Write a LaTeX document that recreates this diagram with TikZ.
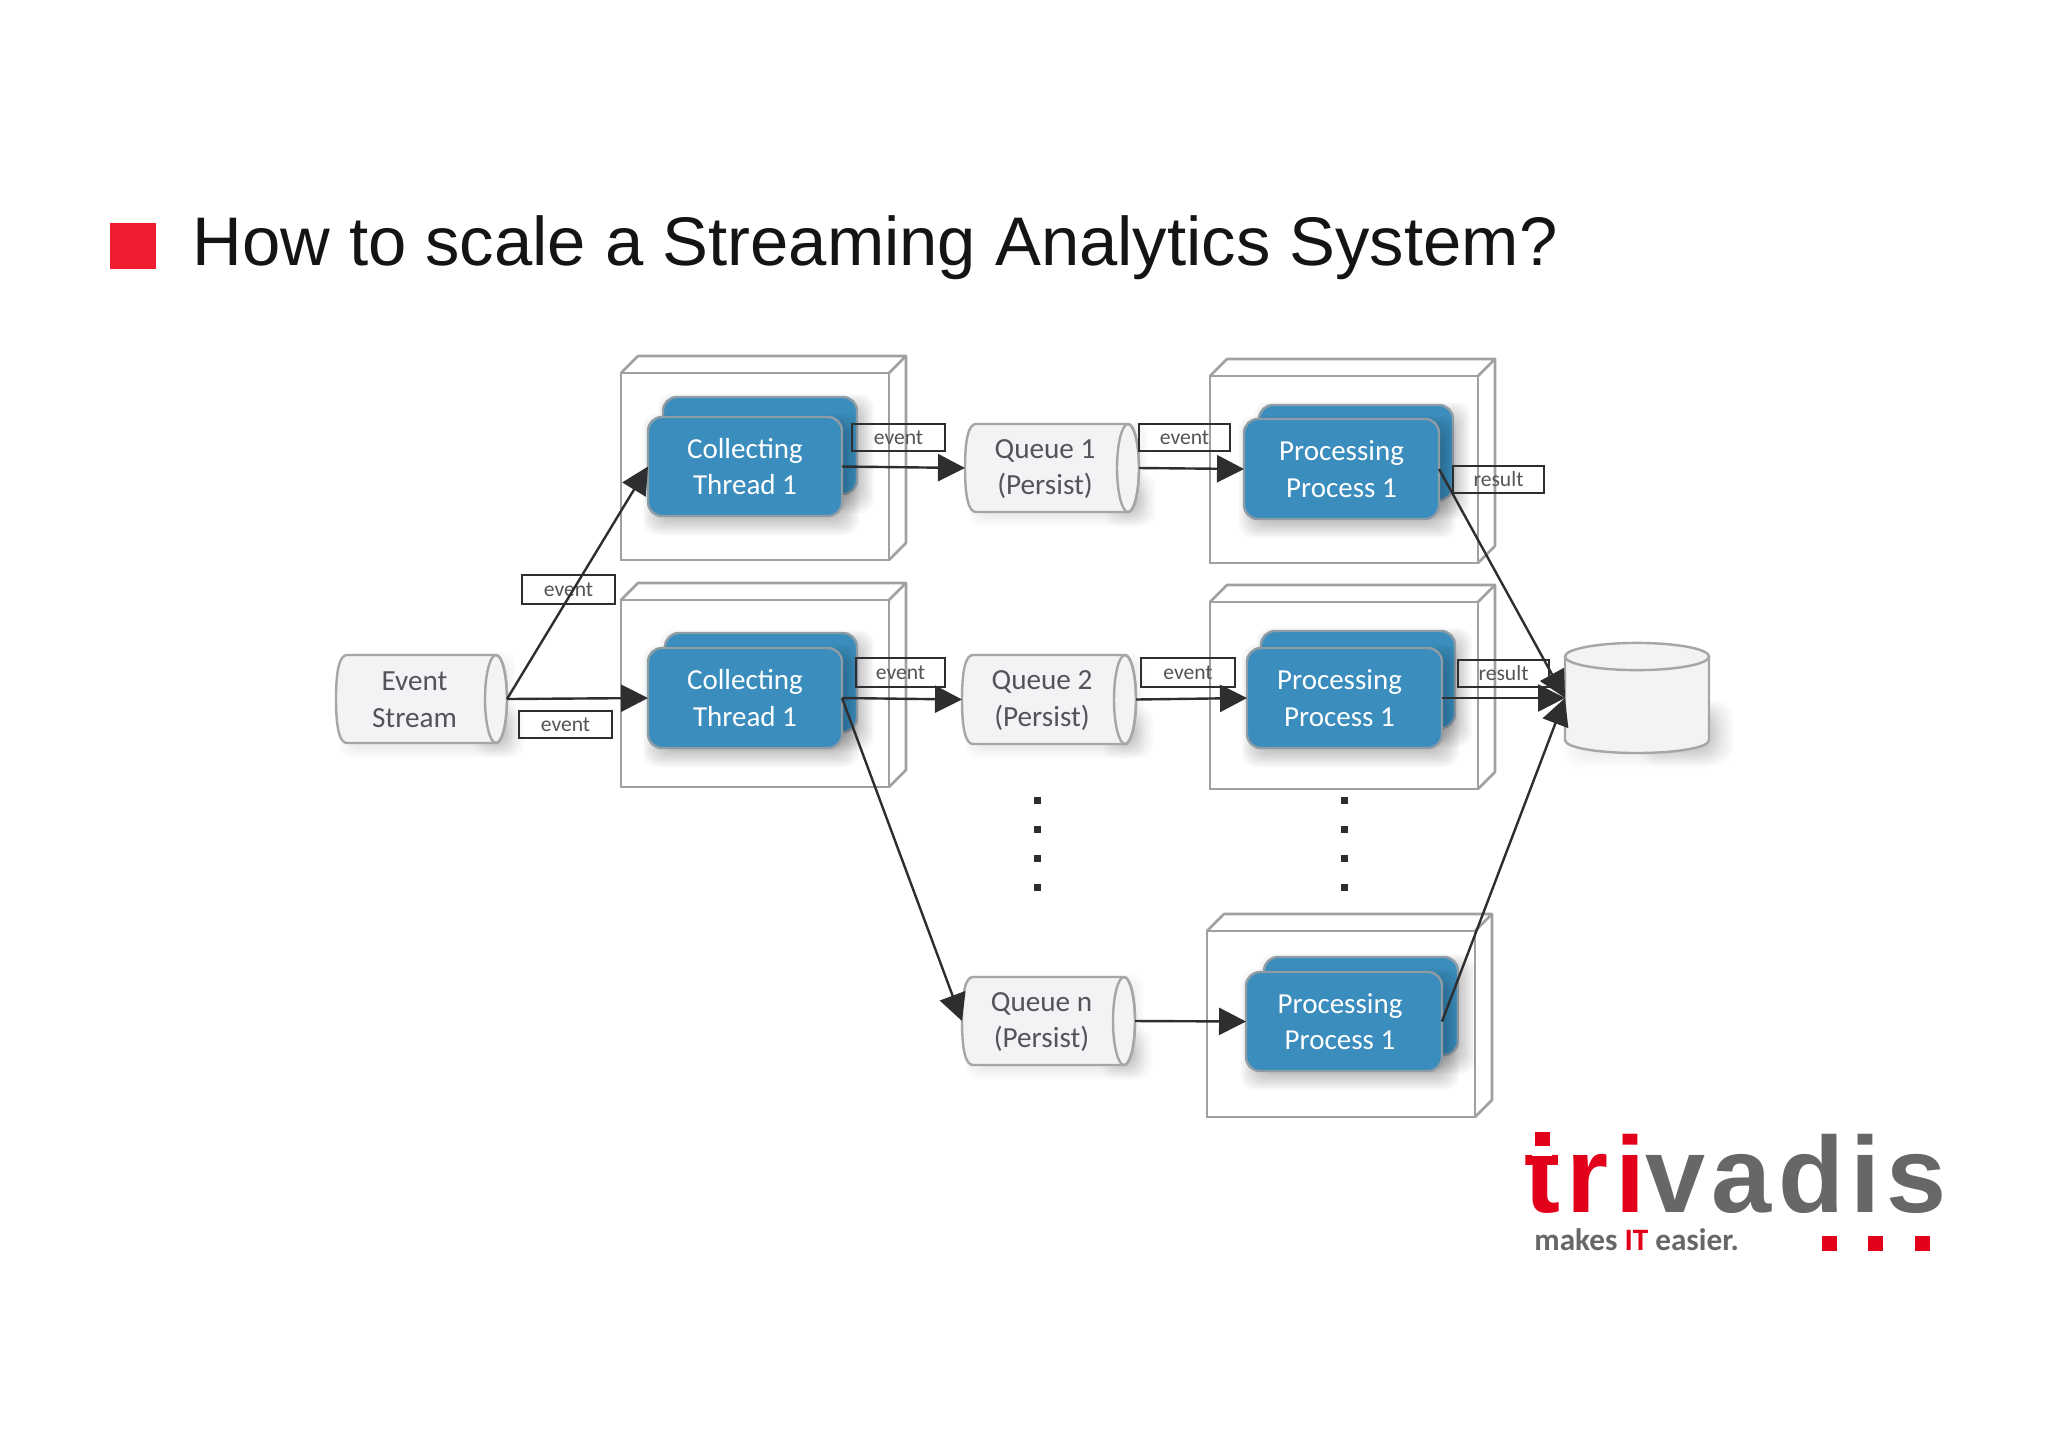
\documentclass[tikz,border=0pt]{standalone}
\usepackage{fontspec}
\setmainfont{Carlito}
\newfontfamily\titlefont{Liberation Sans}
\newfontfamily\logofont[LetterSpace=5.9]{Liberation Sans Bold}
\usetikzlibrary{arrows.meta}
\definecolor{boxgrey}{HTML}{A0A0A3}
\definecolor{blockblue}{HTML}{3A8DBD}
\definecolor{blockedge}{HTML}{8E9CA6}
\definecolor{cylfill}{HTML}{F3F2F4}
\definecolor{cyledge}{HTML}{A6A6A8}
\definecolor{txtgrey}{HTML}{545458}
\definecolor{darkink}{HTML}{2E2E30}
\definecolor{logored}{HTML}{E2001A}
\definecolor{logogrey}{HTML}{676769}
\definecolor{bulletred}{HTML}{F01C30}
\tikzset{
  frontface/.style={draw=boxgrey,line width=1.3pt,inner sep=0pt,outer sep=0pt},
  backedge/.style={draw=boxgrey,line width=1.3pt,line join=round},
  blockshape/.style={rounded corners=7pt,fill=blockblue,draw=blockedge,line width=1.2pt,inner sep=0pt,outer sep=0pt,
    text=white,align=center,font=\fontsize{14.5}{18.3}\selectfont},
  anchorbox/.style={inner sep=0pt,outer sep=0pt},
  cyltext/.style={text=txtgrey,align=center,font=\fontsize{14.6}{18.3}\selectfont,inner sep=0pt},
  cylline/.style={draw=cyledge,line width=1.2pt},
  tag/.style={draw=darkink,line width=1.1pt,inner sep=0pt,outer sep=0pt,text=txtgrey,font=\fontsize{10.8}{12}\selectfont},
  conn/.style={draw=darkink,line width=1.2pt,-{Triangle[length=13.5pt,width=13.5pt,color=darkink]}},
  dotmark/.style={fill=darkink}
}
\newcommand{\softshadow}[6]{% x0 y0 x1 y1 radius(pt) strength
  \foreach \k in {-7,-5,...,11}{
    \fill[black,opacity=#6,rounded corners=#5]
      ({#1-\k},{#2-\k}) rectangle ({#3+\k},{#4+\k});
  }}
\newcommand{\boxthreed}[5]{% name x0 y0 x1 y1
  \node[frontface,minimum width={(#4-#2)*0.5pt},minimum height={(#5-#3)*0.5pt}] (#1) at ({(#2+#4)/2},{(#3+#5)/2}) {};
  \draw[backedge] ({#2},{#3}) -- ({#2+17},{#3-17}) -- ({#4+17},{#3-17}) -- ({#4},{#3});
  \draw[backedge] ({#4+17},{#3-17}) -- ({#4+17},{#5-17}) -- ({#4},{#5});
}
\newcommand{\block}[6]{% name x0 y0 x1 y1 text
  \softshadow{#2+6}{#3+8}{#4+6}{#5+8}{7pt}{0.026}
  \node[blockshape,minimum width={(#4-#2)*0.5pt},minimum height={(#5-#3)*0.5pt}] (#1) at ({(#2+#4)/2},{(#3+#5)/2}) {#6};
}
\newcommand{\hcyl}[6]{% name x0 y0 x1 y1 text
  \softshadow{#2+14}{#3+8}{#4-2}{#5+4}{6pt}{0.010}
  \softshadow{#4-22}{#5-26}{#4+6}{#5+3}{6pt}{0.016}
  \path[fill=cylfill,cylline]
    ({#2+11},{#3}) -- ({#4-11},{#3})
    .. controls ({#4-5},{#3}) and ({#4},{#3+(#5-#3)*0.22}) .. ({#4},{(#3+#5)/2})
    .. controls ({#4},{#5-(#5-#3)*0.22}) and ({#4-5},{#5}) .. ({#4-11},{#5})
    -- ({#2+11},{#5})
    .. controls ({#2+4},{#5}) and ({#2},{#5-(#5-#3)*0.15}) .. ({#2},{(#3+#5)/2})
    .. controls ({#2},{#3+(#5-#3)*0.15}) and ({#2+4},{#3}) .. cycle;
  \draw[cylline] ({#4-11},{(#3+#5)/2}) ellipse [x radius=5.5pt,y radius={(#5-#3)*0.25pt}];
  \node[anchorbox,minimum width={(#4-#2)*0.5pt},minimum height={(#5-#3)*0.5pt}] (#1) at ({(#2+#4)/2},{(#3+#5)/2}) {};
  \node[cyltext] (#1t) at ({(#2+#4)/2-7},{(#3+#5)/2+1}) {#6};
}
\newcommand{\tagbox}[6]{% name x0 y0 x1 y1 text
  \node[tag,minimum width={(#4-#2)*0.5pt},minimum height={(#5-#3)*0.5pt}] (#1) at ({(#2+#4)/2},{(#3+#5)/2}) {#6};
}
\begin{document}
\begin{tikzpicture}[x=0.5pt,y=-0.5pt]
\useasboundingbox (0,0) rectangle (2048,1447);
\fill[white] (0,0) rectangle (2048,1447);
% title
\fill[bulletred] (110,223) rectangle (156,269);
\node[anchor=base west,inner sep=0pt,font=\titlefont\fontsize{34.4}{40}\selectfont,text=black!92] (title) at (192,265) {How to scale a Streaming Analytics System?};
% containers
\boxthreed{boxa}{621}{373}{889}{560}
\boxthreed{boxb}{621}{600}{889}{787}
\boxthreed{boxc}{1210}{376}{1478}{563}
\boxthreed{boxd}{1210}{602}{1478}{789}
\boxthreed{boxe}{1207}{931}{1475}{1117}
% blocks
\block{cab}{663}{397}{857}{494}{}
\block{ca}{648}{417}{842}{516}{Collecting\\Thread 1}
\block{cbb}{665}{633}{857}{732}{}
\block{cb}{648}{648}{842}{748}{Collecting\\Thread 1}
\block{pab}{1259}{405}{1453}{500}{}
\block{pa}{1244}{419}{1439}{519}{Processing\\Process 1}
\block{pbb}{1261}{631}{1455}{728}{}
\block{pb}{1247}{648}{1442}{748}{\hspace*{-5pt}Processing\\\hspace*{-5pt}Process 1}
\block{pcb}{1264}{957}{1458}{1055}{}
\block{pc}{1246}{972}{1442}{1071}{\hspace*{-4pt}Processing\\\hspace*{-4pt}Process 1}
% cylinders
\hcyl{es}{336}{655}{507}{743}{Event\\Stream}
\hcyl{qa}{965}{424}{1139}{512}{Queue 1\\(Persist)}
\hcyl{qb}{962}{655}{1136}{744}{Queue 2\\(Persist)}
\hcyl{qn}{962}{977}{1135}{1065}{Queue n\\(Persist)}
% database
\softshadow{1650}{712}{1722}{754}{8pt}{0.016}
\softshadow{1574}{708}{1708}{758}{8pt}{0.008}
\path[fill=cylfill,cylline] (1565,657) -- (1565,740) .. controls (1565,748) and (1600,753) .. (1637,753)
  .. controls (1674,753) and (1709,748) .. (1709,740) -- (1709,657) -- cycle;
\draw[fill=cylfill,cylline] (1637,656.5) ellipse [x radius=36pt,y radius=6.8pt];
\node[anchorbox,minimum width=72pt,minimum height=55pt] (db) at (1637,698) {};
% tags
\tagbox{ta}{522}{575}{615}{604}{event}
\tagbox{tb}{519}{711}{612}{738}{event}
\tagbox{tc}{852}{424}{945}{451}{event}
\tagbox{td}{856}{658}{945}{687}{event}
\tagbox{te}{1139}{424}{1230}{451}{event}
\tagbox{tf}{1141}{658}{1235}{687}{event}
\tagbox{tg}{1453}{466}{1544}{493}{result}
\tagbox{th}{1458}{660}{1549}{687}{result}
% connectors
\draw[conn] (es.east) -- (ca.west);
\draw[conn] (es.east) -- (cb.west);
\draw[conn] (ca.east) -- (qa.west);
\draw[conn] (cb.east) -- (qb.west);
\draw[conn] (cb.east) -- (qn.west);
\draw[conn] (qa.east) -- (pa.west);
\draw[conn] (qb.east) -- (pb.west);
\draw[conn] (qn.east) -- (pc.west);
\draw[conn] (pa.east) -- (db.west);
\draw[conn] (pb.east) -- (db.west);
\draw[conn] (pc.east) -- (db.west);
% ellipsis dots
\foreach \yy in {800,829,858,887}{
  \fill[dotmark] (1033.5,\yy-3.5) rectangle +(7,7);
  \fill[dotmark] (1340.5,\yy-3.5) rectangle +(7,7);
}
% logo
\node[anchor=base west,inner sep=0pt,font=\logofont\fontsize{54}{60}\selectfont] (logo) at (1524,1212)
  {\textcolor{logored}{tri}\textcolor{logogrey}{vadis}};
\fill[white] (1532,1128) rectangle (1552,1156);
\fill[logored] (1535,1132) rectangle (1550,1146);
\node[anchor=base west,inner sep=0pt,text=logogrey,font=\bfseries\fontsize{15.6}{17}\selectfont] (slogan) at (1534,1250)
  {makes \textcolor{logored}{IT} easier.};
\fill[logored] (1822,1236) rectangle +(15,15);
\fill[logored] (1868,1236) rectangle +(15,15);
\fill[logored] (1915,1236) rectangle +(15,15);
\end{tikzpicture}
\end{document}
